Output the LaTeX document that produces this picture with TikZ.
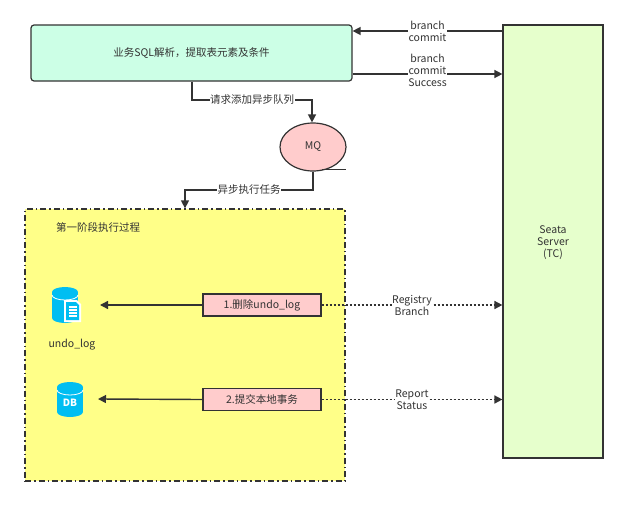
\documentclass[tikz,border=0pt]{standalone}
\usepackage{fontspec}
\setmainfont{Noto Sans CJK SC}
\usetikzlibrary{arrows.meta,shapes.geometric}
\definecolor{txt}{HTML}{333333}
\definecolor{ln}{HTML}{333333}
\definecolor{cy}{HTML}{00BEF2}
\tikzset{
 every node/.style={font=\fontsize{10.5}{12}\selectfont,text=txt},
 con/.style={draw=ln,line width=1.4pt,-{Triangle[length=8pt,width=8pt]}},
 dotc/.style={con,dash pattern=on 2pt off 2pt,line width=1.6pt},
 lbl/.style={fill=white,inner sep=0.5pt,align=center},
 pinkbox/.style={draw=ln,line width=1.2pt,fill={rgb,255:red,255;green,204;blue,204},minimum width=118pt,minimum height=22pt,inner sep=0pt},
}
\begin{document}
\begin{tikzpicture}[x=1pt,y=-1pt]
\useasboundingbox (0,0) rectangle (642,506);
\node[draw=ln,line width=1.2pt,rounded corners=3pt,fill={rgb,255:red,204;green,255;blue,230},minimum width=321pt,minimum height=56pt,inner sep=0pt] (top) at (191.5,53) {业务SQL解析，提取表元素及条件};
\node[draw=ln,line width=1.2pt,fill={rgb,255:red,230;green,255;blue,204},minimum width=100pt,minimum height=433pt,inner sep=0pt,align=center] (tc) at (553,241.5) {};
\node[align=center] at (553,243) {Seata\\Server\\(TC)};
\node[draw=ln,line width=1.2pt,ellipse,fill={rgb,255:red,255;green,204;blue,204},minimum width=66pt,minimum height=48pt,inner sep=0pt] (mq) at (313,147) {MQ};
\node[draw=ln,line width=1.3pt,dash pattern=on 6pt off 3pt on 1.5pt off 3pt,fill={rgb,255:red,255;green,255;blue,136},minimum width=320pt,minimum height=272pt,inner sep=0pt] (yb) at (185,345) {};
\node at (98,227) {第一阶段执行过程};
% icons
\fill[cy] (52,292) rectangle (78,318);
\fill[cy] (65,292) ellipse (13pt and 5pt);
\fill[cy] (65,318) ellipse (13pt and 5pt);
\draw[white,line width=0.8pt] (52,295) arc (180:360:13pt and 5pt);
\fill[white] (64,300) -- (77,300) -- (81,304) -- (81,322) -- (64,322) -- cycle;
\fill[cy] (66,302) -- (76,302) -- (79,305) -- (79,320) -- (66,320) -- cycle;
\foreach \yy in {306,309,312,315} {\fill[white] (69,\yy) rectangle (77,\yy+1.5);}
\node (ulog) at (72,345) {undo\_log};
\fill[cy] (57,387) rectangle (83,412);
\fill[cy] (70,387) ellipse (13pt and 5pt);
\fill[cy] (70,412) ellipse (13pt and 5pt);
\draw[white,line width=0.8pt] (57,390) arc (180:360:13pt and 5pt);
\node[text=white,font=\fontsize{10}{11}\selectfont\bfseries] at (70,403) {DB};
\coordinate (i1) at (100,305);
\coordinate (i2) at (98,399);
\node[pinkbox] (b1) at (262,305) {1.删除undo\_log};
\node[pinkbox] (b2) at (262,399.5) {2.提交本地事务};
\draw[con] (b1.west) -- (i1);
\draw[con] (b2.west) -- (i2);
\draw[dotc] (b1.east) -- (b1.east -| tc.west) node[lbl,pos=0.5] {Registry\\Branch};
\draw[dotc] (b2.east) -- (b2.east -| tc.west) node[lbl,pos=0.5] {Report\\Status};
% top arrows
\draw[con] (tc.west |- 0,31) -- (top.east |- 0,31) node[lbl,pos=0.5] {branch\\commit};
\draw[con] (top.east |- 0,74) -- (tc.west |- 0,74) node[lbl,pos=0.5,yshift=4pt] {branch\\commit\\Success};
% orthogonal
\draw[con] (top.south -| 192,0) -- (192,100) -- (312,100) node[lbl,pos=0.5] {请求添加异步队列} -- (mq.north -| 312,0);
\draw[line width=1.3pt,draw=ln] (322,169.5) -- (346,169.5);
\draw[con] (mq.south) -- (313,190) -- (185,190) node[lbl,pos=0.5] {异步执行任务} -- (yb.north);
\end{tikzpicture}
\end{document}
